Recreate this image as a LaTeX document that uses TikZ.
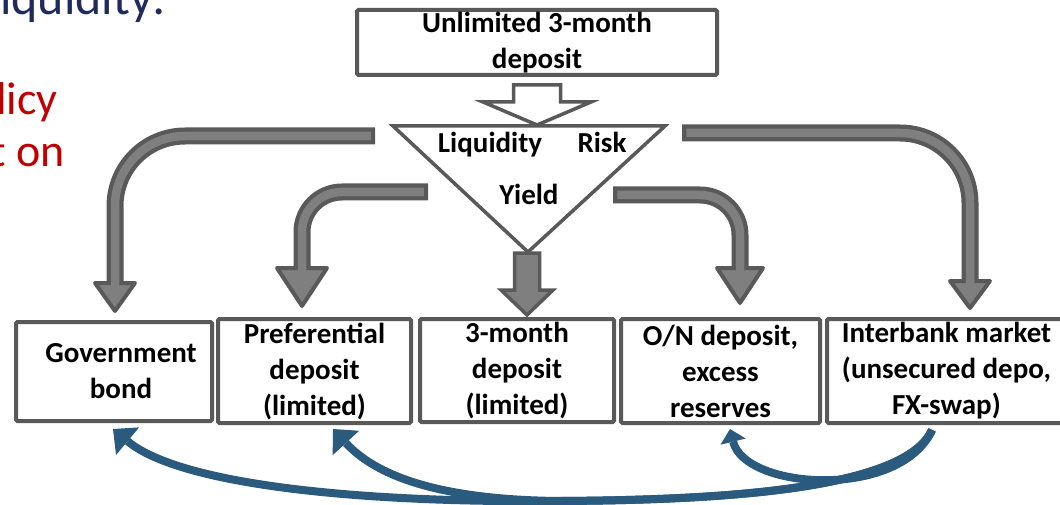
\documentclass[tikz,border=0pt]{standalone}
\usepackage{fontspec}
\setmainfont{Carlito}
\usetikzlibrary{calc,arrows.meta}
\definecolor{dgray}{HTML}{595959}
\definecolor{lgray}{HTML}{7F7F7F}
\definecolor{bluA}{HTML}{2A5B7E}
\definecolor{navyA}{HTML}{1F2A5E}
\definecolor{redA}{HTML}{C00000}
\begin{document}
\begin{tikzpicture}[x=1pt,y=-1pt,
 box/.style={draw=dgray,line width=4pt,rounded corners=1.5pt,fill=white,align=center,inner sep=0pt,font=\bfseries\fontsize{29}{36}\selectfont},
 lbl/.style={inner sep=0pt,font=\bfseries\fontsize{29}{36}\selectfont},
 shout/.style={draw=dgray,line width=17pt,rounded corners=#1},
 shin/.style={draw=lgray,line width=8.5pt,rounded corners=#1,shorten <=4.25pt,shorten >=-6pt},
 ahead/.style={fill=lgray,draw=dgray,line width=4pt,line join=round},
 blockar/.style={fill=lgray,draw=dgray,line width=3.5pt,line join=miter},
 hollow/.style={fill=white,draw=dgray,line width=3.5pt},
 tri/.style={fill=white,draw=dgray,line width=3.5pt},
 blu/.style={draw=bluA,line width=8pt},
 bigtxt/.style={inner sep=0pt,font=\fontsize{46}{50}\selectfont}
]
\useasboundingbox (0,0) rectangle (1060,505);
\clip (0,0) rectangle (1060,505);

% partial slide texts
\node[bigtxt,text=navyA,anchor=base west,font=\fontsize{50}{55}\selectfont] (ttl) at (0,15) {iquidity:};
\node[bigtxt,text=redA,anchor=base east] (r1) at (58,115) {licy};
\node[bigtxt,text=redA,anchor=base east] (r2) at (65,167) {t on};

% top box
\node[box,minimum width=360pt,minimum height=65pt] (top) at (537,42.5) {Unlimited 3-month\\deposit};

% hollow arrow
\draw[hollow] ($(top.south)+(-23.5,8)$) -- ++(47,0) -- ++(0,17) -- ++(30.5,0) -- ($(top.south)+(0,48)$) -- ($(top.south)+(-54,25)$) -- ++(30.5,0) -- cycle;

% triangle
\coordinate (trl) at (393,126);
\coordinate (trr) at (665,126);
\coordinate (trt) at (528,252);
\draw[tri] (trl) -- (trr) -- (trt) -- cycle;
\node[lbl,anchor=base] (liq) at (490,153) {Liquidity};
\node[lbl,anchor=base] (risk) at (602,153) {Risk};
\node[lbl,anchor=base] (yld) at (529,205) {Yield};

% bottom boxes
\node[box,minimum width=196pt,minimum height=99pt] (gov) at (114,371.5) {\hspace*{14pt}Government\\\hspace*{14pt}bond};
\node[box,minimum width=193pt,minimum height=104pt] (pref) at (314.5,371) {Preferential\\deposit\\(limited)};
\node[box,minimum width=194pt,minimum height=103pt] (b3) at (517,370.5) {3-month\\deposit\\(limited)};
\node[box,minimum width=199pt,minimum height=104pt] (on) at (720.5,371) {O/N deposit,\\excess\\reserves};
\node[box,minimum width=239pt,minimum height=104pt] (ib) at (946.5,371) {Interbank market\\(unsecured depo,\\FX-swap)};

% arrow tip coordinates
\coordinate (t1) at ([xshift=1pt,yshift=9pt]gov.north);
\coordinate (t2) at ([xshift=-12.5pt,yshift=11pt]pref.north);
\coordinate (t3) at ([xshift=10pt,yshift=2pt]b3.north);
\coordinate (t4) at ([xshift=19.5pt,yshift=14pt]on.north);
\coordinate (t5) at ([xshift=23.5pt,yshift=9pt]ib.north);
\coordinate (s1) at (375,136);
\coordinate (s2) at (428,192);
\coordinate (s4) at (613,195);
\coordinate (s5) at (682,133);

% gray bent arrows
\draw[ahead] ($(t1)+(-20,-28)$) -- ($(t1)+(20,-28)$) -- (t1) -- cycle;
\draw[shout=70pt] (s1) -| ($(t1)+(0,-28)$);
\draw[shin=70pt] (s1) -| ($(t1)+(0,-28)$);

\draw[ahead] ($(t2)+(-25,-38)$) -- ($(t2)+(25,-38)$) -- (t2) -- cycle;
\draw[shout=40pt] (s2) -| ($(t2)+(0,-38)$);
\draw[shin=40pt] (s2) -| ($(t2)+(0,-38)$);

\draw[ahead] ($(t4)+(-23,-35)$) -- ($(t4)+(23,-35)$) -- (t4) -- cycle;
\draw[shout=40pt] (s4) -| ($(t4)+(0,-35)$);
\draw[shin=40pt] (s4) -| ($(t4)+(0,-35)$);

\draw[ahead] ($(t5)+(-20,-27)$) -- ($(t5)+(20,-27)$) -- (t5) -- cycle;
\draw[shout=70pt] (s5) -| ($(t5)+(0,-27)$);
\draw[shin=70pt] (s5) -| ($(t5)+(0,-27)$);

% straight block arrow from triangle tip
\draw[blockar] ($(t3)+(-12.5,-62)$) -- ++(25,0) -- ++(0,37) -- ++(13.5,0) -- (t3) -- ($(t3)+(-26,-25)$) -- ++(13.5,0) -- cycle;

% blue curved arrows
\coordinate (bs) at ([xshift=-14.5pt,yshift=-5pt]ib.south);
\coordinate (gt) at ([xshift=-1pt,yshift=-6pt]gov.south);
\coordinate (pt) at ([xshift=18.5pt,yshift=-4pt]pref.south);
\coordinate (ot) at ([xshift=9.5pt,yshift=-4pt]on.south);
\draw[blu,-{Triangle[length=19pt,width=36pt,line width=0pt]}] (bs) .. controls (905,490) and (720,500) .. (560,501) .. controls (360,503) and (180,485) .. (gt);
\draw[blu,-{Triangle[length=19pt,width=36pt,line width=0pt]}] (bs) .. controls (905,490) and (720,500) .. (560,501) .. controls (450,500) and (380,480) .. (pt);
\draw[blu,-{Triangle[length=13pt,width=26pt,line width=0pt]}] (bs) .. controls (900,500) and (745,490) .. (ot);
\end{tikzpicture}
\end{document}
